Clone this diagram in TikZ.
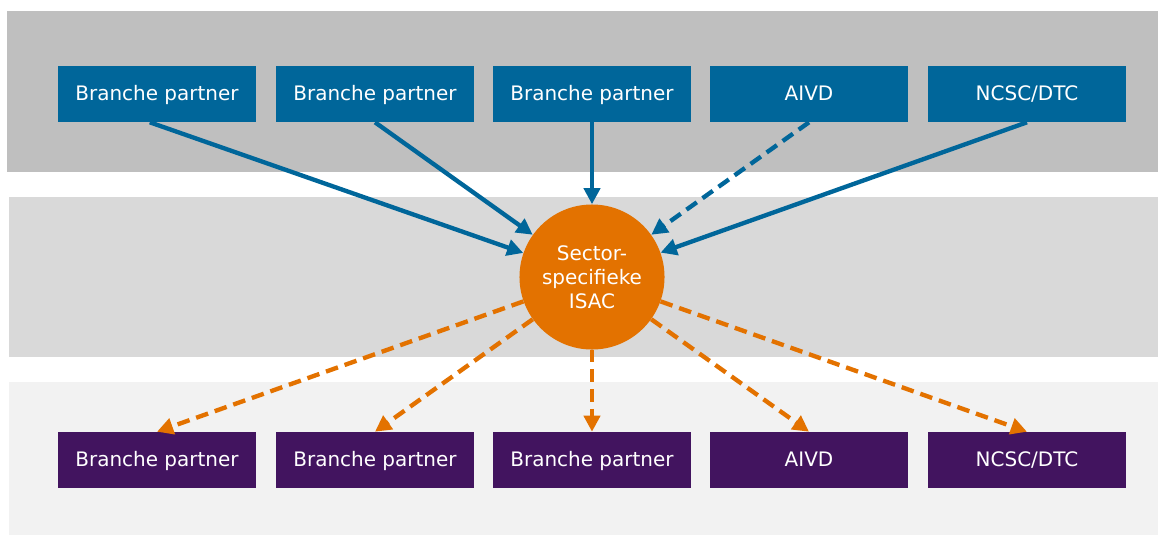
\documentclass[tikz,border=0pt]{standalone}
\usepackage{fontspec}
\setmainfont{DejaVu Sans}
\usepackage{xcolor}
\usetikzlibrary{arrows.meta}
\definecolor{isacblue}{HTML}{00669A}
\definecolor{isacorange}{HTML}{E37200}
\definecolor{isacpurple}{HTML}{42145F}

\begin{document}
\begin{tikzpicture}[x=0.025cm,y=-0.025cm,
    partner/.style={minimum width=4.95cm, minimum height=1.4cm, inner sep=0pt,
        text height=0.88em, text depth=0pt,
        text=white, font=\fontsize{14.2pt}{17pt}\selectfont},
    feed/.style={isacblue, line width=3.1pt, -{Triangle[length=11.5pt,width=11.5pt]}},
    share/.style={isacorange, line width=3.1pt, dash pattern=on 9pt off 5pt,
        -{Triangle[length=11.5pt,width=11.5pt]}}]
    \useasboundingbox (0,0) rectangle (1158,535);

    % bands
    \fill[gray!50!white] (7,11) rectangle (1158,172);
    \fill[gray!30!white] (9,197) rectangle (1158,357);
    \fill[gray!10!white] (9,382) rectangle (1158,535);

    % sources and receivers
    \foreach \i/\x/\name in {1/157/Branche partner,2/375/Branche partner,
        3/592/Branche partner,4/809/AIVD,5/1027/{NCSC/DTC}} {
        \node[partner, fill=isacblue] (src\i) at (\x,94) {\name};
        \node[partner, fill=isacpurple] (dst\i) at (\x,460) {\name};
    }

    \node[circle, fill=isacorange, minimum size=3.625cm, inner sep=0pt,
        text=white, align=center, font=\fontsize{14.2pt}{17pt}\selectfont]
        (isac) at (592,277) {Sector-\\specifieke\\ISAC};

    % incoming
    \draw[feed] ([xshift=-0.18cm]src1.south) -- (isac);
    \draw[feed] (src2.south) -- (isac);
    \draw[feed] (src3.south) -- (isac);
    \draw[feed, dash pattern=on 9pt off 5pt] (src4.south) -- (isac);
    \draw[feed] (src5.south) -- (isac);

    % outgoing
    \foreach \i in {1,...,5}
        \draw[share] (isac) -- (dst\i.north);
\end{tikzpicture}
\end{document}
